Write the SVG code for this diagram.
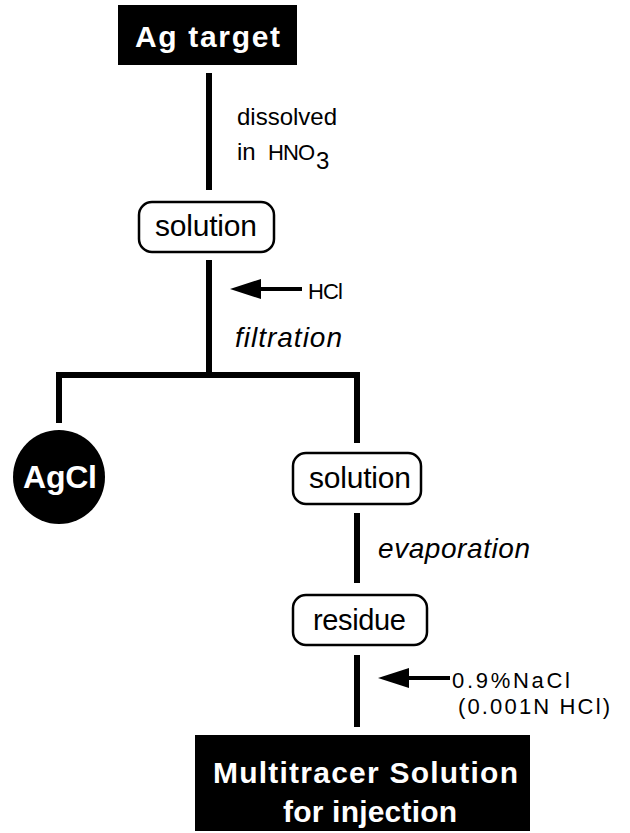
<svg xmlns="http://www.w3.org/2000/svg" width="630" height="833" viewBox="0 0 630 833">
<style>
  text { font-family: "Liberation Sans", Arial, sans-serif; fill: #000; }
  .wt { fill: #fff; font-weight: bold; }
  .box { fill: #fff; stroke: #000; stroke-width: 2.5; }
  .blk { fill: #000; }
  .line { fill: none; stroke: #000; stroke-width: 6; stroke-linejoin: miter; }
  .thin { fill: none; stroke: #000; stroke-width: 4; }
  .lbl { font-size: 23px; }
  .it { font-size: 28px; font-style: italic; }
  .nd { font-size: 30px; }
</style>
<defs>
  <path id="ah" d="M0 0 L31 -10 L31 10 Z" class="blk"/>
</defs>
<rect width="630" height="833" fill="#fff"/>

<g id="connectors">
  <path class="line" d="M209 73 V190"/>
  <path class="line" d="M209 260 V375"/>
  <path class="line" d="M59 423 V375 H357 V443"/>
  <path class="line" d="M357 513 V583"/>
  <path class="line" d="M357 655 V727"/>
  <path class="thin" d="M255 289 H302"/>
  <use href="#ah" x="230" y="289"/>
  <path class="thin" d="M403 678 H450"/>
  <use href="#ah" x="378" y="678"/>
</g>

<g id="labels">
  <text class="lbl" style="font-size:24px" x="237" y="125" textLength="100" lengthAdjust="spacing">dissolved</text>
  <text class="lbl" style="font-size:24px" x="237" y="160">in<tspan x="268" style="font-size:22px" textLength="47" lengthAdjust="spacing">HNO</tspan><tspan x="316" y="169">3</tspan></text>
  <text class="lbl" style="font-size:22px" x="308" y="299" textLength="35" lengthAdjust="spacing">HCl</text>
  <text class="it" x="235" y="347" textLength="107" lengthAdjust="spacing">filtration</text>
  <text class="it" x="378" y="558" textLength="152" lengthAdjust="spacing">evaporation</text>
  <text class="lbl" style="font-size:22px" x="452" y="688" textLength="118" lengthAdjust="spacing">0.9%NaCl</text>
  <text class="lbl" style="font-size:22px" x="458" y="714" textLength="152" lengthAdjust="spacing">(0.001N HCl)</text>
</g>

<g id="ag-target">
  <rect class="blk" x="118" y="5" width="179" height="60"/>
  <text class="wt" x="135" y="47" font-size="30" textLength="145" lengthAdjust="spacing">Ag target</text>
</g>

<g id="solution-1">
  <rect class="box" x="139" y="202" width="135" height="50" rx="13"/>
  <text class="nd" x="155" y="236" textLength="102" lengthAdjust="spacing">solution</text>
</g>

<g id="agcl">
  <ellipse class="blk" cx="59" cy="477" rx="46" ry="47"/>
  <text class="wt" x="23" y="488" font-size="32" textLength="74" lengthAdjust="spacing">AgCl</text>
</g>

<g id="solution-2">
  <rect class="box" x="293" y="453" width="128" height="51" rx="13"/>
  <text class="nd" x="309" y="488" textLength="102" lengthAdjust="spacing">solution</text>
</g>

<g id="residue">
  <rect class="box" x="293" y="595" width="134" height="50" rx="13"/>
  <text class="nd" style="font-size:29px" x="313" y="630" textLength="93" lengthAdjust="spacing">residue</text>
</g>

<g id="multitracer">
  <rect class="blk" x="195" y="735" width="335" height="96"/>
  <text class="wt" x="213" y="783" font-size="30" textLength="305" lengthAdjust="spacing">Multitracer Solution</text>
  <text class="wt" x="283" y="822" font-size="30" textLength="174" lengthAdjust="spacing">for injection</text>
</g>
</svg>
